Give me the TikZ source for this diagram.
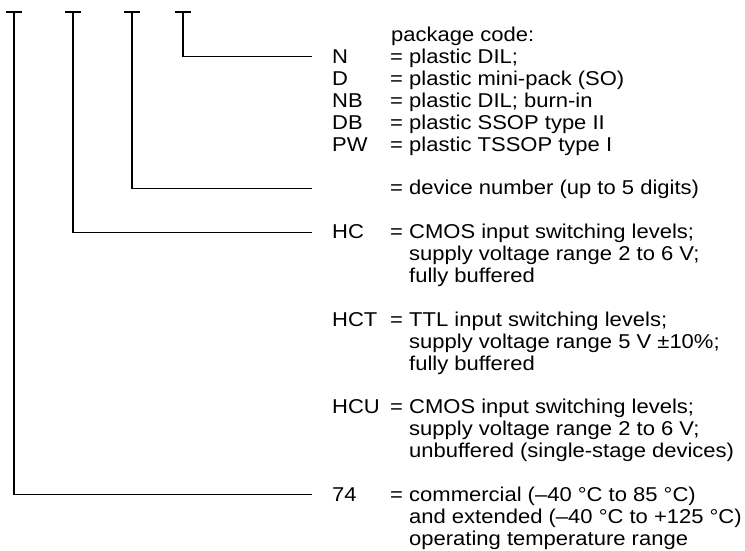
\documentclass[tikz,border=0pt]{standalone}
\usepackage{fontspec}
\setmainfont[FakeStretch=1.1]{Liberation Sans}
\begin{document}
\begin{tikzpicture}[x=1pt,y=-1pt,
  lbl/.style={anchor=base west, inner sep=0pt, font=\fontsize{20}{22}\selectfont},
  wire/.style={line width=1.1pt, line cap=butt},
  tbar/.style={line width=1.1pt}]
\useasboundingbox (0,0) rectangle (745,551);
% T tops and line ends
\coordinate (t1) at (14,12);  \coordinate (e1) at (312,494.9);
\coordinate (t2) at (73,12);  \coordinate (e2) at (312,232.1);
\coordinate (t3) at (132,12); \coordinate (e3) at (312,188.3);
\coordinate (t4) at (183,12); \coordinate (e4) at (312,56.4);
\foreach \t in {t1,t2,t3,t4}{\draw[tbar] ([xshift=-8pt]\t) -- ([xshift=8pt]\t);}
\draw[wire] (t1) |- (e1);
\draw[wire] (t2) |- (e2);
\draw[wire] (t3) |- (e3);
\draw[wire] (t4) |- (e4);
% package code
\node[lbl] (pk) at (391,41.5) {package code:};
\node[lbl] (cN) at (332,63.4) {N};   \node[lbl] (qN) at (390,63.4) {=};   \node[lbl] (dN) at (409,63.4) {plastic DIL;};
\node[lbl] (cD) at (332,85.3) {D};   \node[lbl] (qD) at (390,85.3) {=};   \node[lbl] (dD) at (409,85.3) {plastic mini-pack (SO)};
\node[lbl] (cNB) at (332,107.2) {NB}; \node[lbl] (qNB) at (390,107.2) {=}; \node[lbl] (dNB) at (409,107.2) {plastic DIL; burn-in};
\node[lbl] (cDB) at (332,129.1) {DB}; \node[lbl] (qDB) at (390,129.1) {=}; \node[lbl] (dDB) at (409,129.1) {plastic SSOP type II};
\node[lbl] (cPW) at (332,151.0) {PW}; \node[lbl] (qPW) at (390,151.0) {=}; \node[lbl] (dPW) at (409,151.0) {plastic TSSOP type I};
% device number
\node[lbl] (qDev) at (390,194.8) {=}; \node[lbl] (dDev) at (409,194.8) {device number (up to 5 digits)};
% HC
\node[lbl] (cHC) at (332,238.6) {HC}; \node[lbl] (qHC) at (390,238.6) {=};
\node[lbl] (dHC1) at (409,238.6) {CMOS input switching levels;};
\node[lbl] (dHC2) at (409,260.5) {supply voltage range 2 to 6 V;};
\node[lbl] (dHC3) at (409,282.4) {fully buffered};
% HCT
\node[lbl] (cHCT) at (332,326.2) {HCT}; \node[lbl] (qHCT) at (390,326.2) {=};
\node[lbl] (dHCT1) at (409,326.2) {TTL input switching levels;};
\node[lbl] (dHCT2) at (409,348.1) {supply voltage range 5 V ±10\%;};
\node[lbl] (dHCT3) at (409,370.0) {fully buffered};
% HCU
\node[lbl] (cHCU) at (332,413.8) {HCU}; \node[lbl] (qHCU) at (390,413.8) {=};
\node[lbl] (dHCU1) at (409,413.8) {CMOS input switching levels;};
\node[lbl] (dHCU2) at (409,435.7) {supply voltage range 2 to 6 V;};
\node[lbl] (dHCU3) at (409,457.6) {unbuffered (single-stage devices)};
% 74
\node[lbl] (c74) at (332,501.4) {74}; \node[lbl] (q74) at (390,501.4) {=};
\node[lbl] (d741) at (409,501.4) {commercial (–40 °C to 85 °C)};
\node[lbl] (d742) at (409,523.3) {and extended (–40 °C to +125 °C)};
\node[lbl] (d743) at (409,545.2) {operating temperature range};
\end{tikzpicture}
\end{document}
